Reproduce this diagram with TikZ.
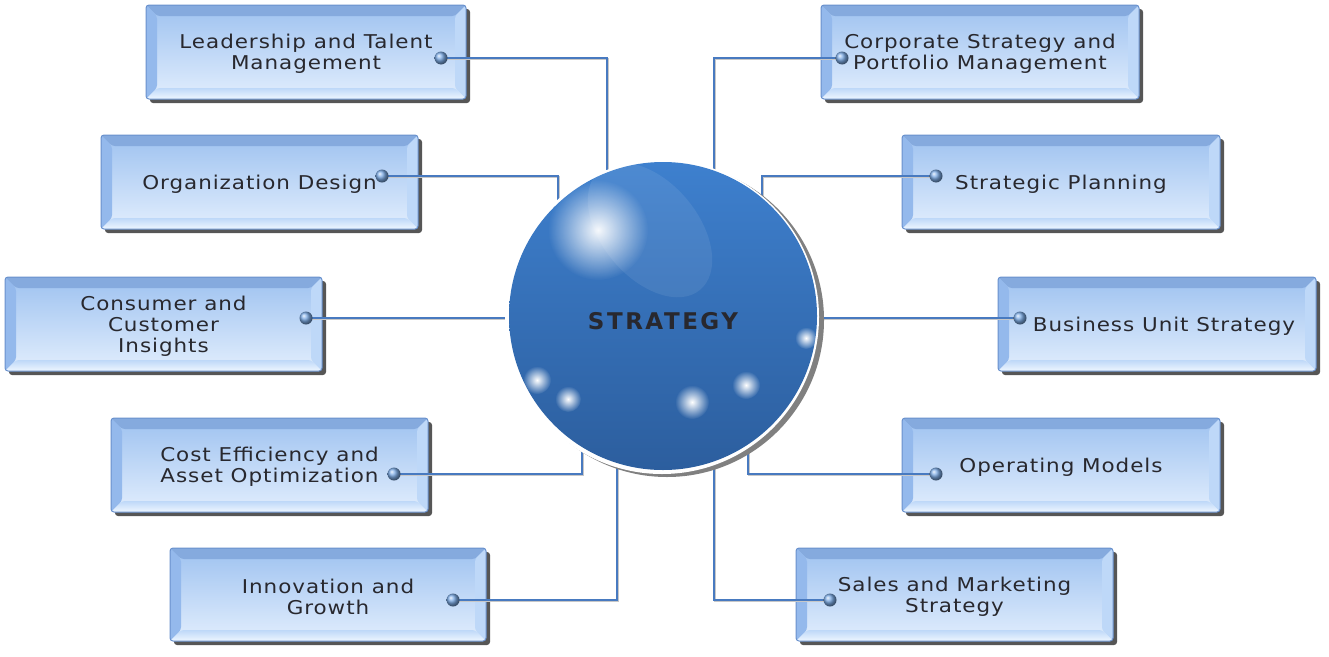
\documentclass[tikz,border=0pt]{standalone}
\usepackage{fontspec}
\setmainfont{DejaVu Sans}
\usetikzlibrary{shadows,fadings}
\definecolor{boxedge}{RGB}{105,145,205}
\definecolor{facetop}{RGB}{158,194,240}
\definecolor{facebot}{RGB}{226,238,253}
\definecolor{bevtopc}{RGB}{133,170,222}
\definecolor{bevleftc}{RGB}{148,185,236}
\definecolor{bevrightc}{RGB}{190,216,248}
\definecolor{bevbotc}{RGB}{238,246,255}
\definecolor{txtc}{RGB}{40,40,46}
\definecolor{linec}{RGB}{72,122,192}
\definecolor{sphtop}{RGB}{62,128,206}
\definecolor{sphbot}{RGB}{44,94,158}
\definecolor{dotc}{RGB}{125,172,230}
\tikzfading[name=glowfade, inner color=transparent!0, outer color=transparent!100]
\newcommand\pNW{path picture bounding box.north west}
\newcommand\pNE{path picture bounding box.north east}
\newcommand\pSW{path picture bounding box.south west}
\newcommand\pSE{path picture bounding box.south east}
\newcommand\bevelpic{%
  \fill[bevtopc] (\pNW) -- (\pNE) -- ([xshift=-11pt,yshift=-11pt]\pNE) -- ([xshift=11pt,yshift=-11pt]\pNW) -- cycle;
  \fill[bevleftc] (\pNW) -- ([xshift=11pt,yshift=-11pt]\pNW) -- ([xshift=11pt,yshift=11pt]\pSW) -- (\pSW) -- cycle;
  \fill[bevrightc] (\pNE) -- ([xshift=-11pt,yshift=-11pt]\pNE) -- ([xshift=-11pt,yshift=11pt]\pSE) -- (\pSE) -- cycle;
  \shade[top color=bevrightc, bottom color=bevbotc] (\pSW) -- ([xshift=11pt,yshift=11pt]\pSW) -- ([xshift=-11pt,yshift=11pt]\pSE) -- (\pSE) -- cycle;
}
\begin{document}
\begin{tikzpicture}[x=1pt,y=-1pt,
  stepbox/.style={rectangle, rounded corners=3pt, draw=boxedge, line width=1pt,
    minimum width=317pt, minimum height=94pt, inner sep=0pt,
    top color=facetop, bottom color=facebot,
    drop shadow={shadow xshift=4pt, shadow yshift=-4pt, fill=black!78, opacity=0.85},
    path picture={\bevelpic}},
  lbl/.style={align=center, text=txtc, yshift=-2pt, font=\fontsize{19}{21}\selectfont\addfontfeature{LetterSpace=5,FakeStretch=1.13}, inner sep=0pt},
  conn/.style={draw=linec, line width=1.6pt,
    preaction={draw=black!22, line width=1.6pt, transform canvas={shift={(1.2pt,-1.2pt)}}}},
  dot/.style={circle, minimum size=13pt, inner sep=0pt, ball color=dotc},
  glint/.style={fill=white, path fading=glowfade},
]
\useasboundingbox (0,0) rectangle (1329,656);

% boxes
\node[stepbox, minimum width=320pt] (L1) at (306,52) {};
\node[lbl] at (L1) {Leadership and Talent\\Management};
\node[stepbox] (L2) at (259.5,182) {};
\node[lbl] at (L2) {Organization Design};
\node[stepbox] (L3) at (163.5,324) {};
\node[lbl] at (L3) {Consumer and\\Customer\\Insights};
\node[stepbox] (L4) at (269.5,465) {};
\node[lbl] at (L4) {Cost Efficiency and\\Asset Optimization};
\node[stepbox, minimum width=316pt, minimum height=93pt] (L5) at (328,594.5) {};
\node[lbl] at (L5) {Innovation and\\Growth};
\node[stepbox, minimum width=318pt] (R1) at (980,52) {};
\node[lbl] at (R1) {Corporate Strategy and\\Portfolio Management};
\node[stepbox, minimum width=318pt] (R2) at (1061,182) {};
\node[lbl] at (R2) {Strategic Planning};
\node[stepbox, minimum width=318pt] (R3) at (1157,324) {};
\node[lbl] at ([xshift=7pt]R3) {Business Unit Strategy};
\node[stepbox, minimum width=318pt] (R4) at (1061,465) {};
\node[lbl] at (R4) {Operating Models};
\node[stepbox, minimum height=93pt] (R5) at (954.5,594.5) {};
\node[lbl] at (R5) {Sales and Marketing\\Strategy};

% dot positions and bend points
\coordinate (pL1) at (441,58);  \coordinate (kL1) at (607,260);
\coordinate (pL2) at (382,176); \coordinate (kL2) at (558,260);
\coordinate (pL3) at (306,318); \coordinate (kL3) at (560,318);
\coordinate (pL4) at (394,474); \coordinate (kL4) at (582,380);
\coordinate (pL5) at (453,600); \coordinate (kL5) at (617,380);
\coordinate (pR1) at (842,58);  \coordinate (kR1) at (714,260);
\coordinate (pR2) at (936,176); \coordinate (kR2) at (762,260);
\coordinate (pR3) at (1020,318);\coordinate (kR3) at (760,318);
\coordinate (pR4) at (936,474); \coordinate (kR4) at (748,380);
\coordinate (pR5) at (830,600); \coordinate (kR5) at (714,380);

% connectors
\draw[conn] (pL1) -| (kL1);
\draw[conn] (pL2) -| (kL2);
\draw[conn] (pL3) -- (kL3);
\draw[conn] (pL4) -| (kL4);
\draw[conn] (pL5) -| (kL5);
\draw[conn] (pR1) -| (kR1);
\draw[conn] (pR2) -| (kR2);
\draw[conn] (pR3) -- (kR3);
\draw[conn] (pR4) -| (kR4);
\draw[conn] (pR5) -| (kR5);

% central sphere
\fill[black!50] (667,320) circle (157);
\fill[white] (662,317) circle (157);
\node[circle, minimum size=308pt, inner sep=0pt, top color=sphtop, bottom color=sphbot] (S) at (663,316) {};
\begin{scope}
  \clip (663,316) circle (154);
  \fill[white, opacity=0.08, rotate around={-50:(650,230)}] (650,230) ellipse (78 and 48);
\end{scope}
\fill[glint, opacity=0.95] (598,230) circle (50);
\fill[glint] (537,380) circle (14);
\fill[glint] (568,399) circle (13);
\fill[glint] (692,402) circle (17);
\fill[glint] (746,385) circle (14);
\fill[glint] (806,338) circle (11);
\node[text=txtc, font=\bfseries\fontsize{23}{23}\selectfont\addfontfeature{LetterSpace=11}, inner sep=0pt] (Slbl) at (663,321) {STRATEGY};

% dots
\foreach \p in {L1,L2,L3,L4,L5,R1,R2,R3,R4,R5}
  \node[dot] (d\p) at (p\p) {};
\end{tikzpicture}
\end{document}
